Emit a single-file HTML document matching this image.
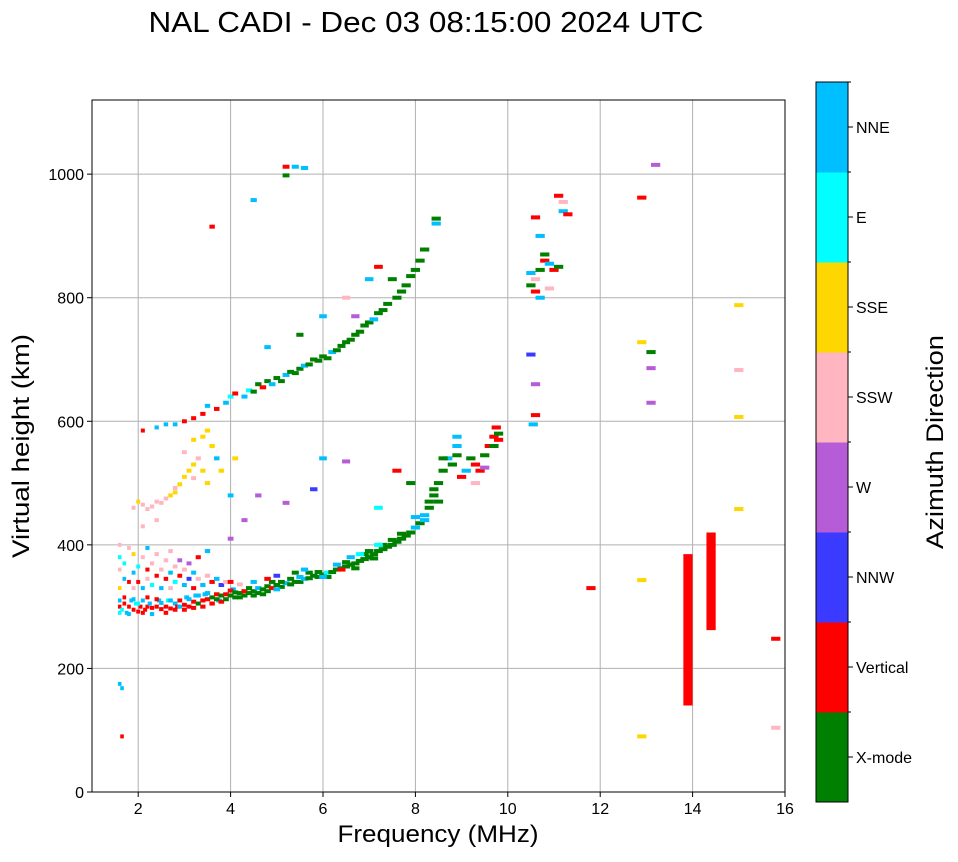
<!DOCTYPE html>
<html><head><meta charset="utf-8"><style>
body{margin:0;background:#fff;}
svg text{font-family:"Liberation Sans",sans-serif;}
</style></head><body>
<svg id="chart" width="958" height="857" xmlns="http://www.w3.org/2000/svg">
<rect width="958" height="857" fill="#fff"/>
<text x="426" y="32" font-size="29" text-anchor="middle" textLength="555" lengthAdjust="spacingAndGlyphs">NAL CADI - Dec 03 08:15:00 2024 UTC</text>
<g id="grid"></g>
<g id="marks"></g>
<rect x="92" y="100" width="693" height="692" fill="none" stroke="#000" stroke-width="1"/>
<g id="axes"></g>
<text x="438" y="842" font-size="24" text-anchor="middle" textLength="201" lengthAdjust="spacingAndGlyphs">Frequency (MHz)</text>
<text transform="translate(29,446) rotate(-90)" font-size="24" text-anchor="middle" textLength="224" lengthAdjust="spacingAndGlyphs">Virtual height (km)</text>
<g id="colorbar"></g>
<text transform="translate(943,442) rotate(-90)" font-size="24" text-anchor="middle" textLength="214" lengthAdjust="spacingAndGlyphs">Azimuth Direction</text>
</svg>
<script>
const xTicks=[2,4,6,8,10,12,14,16];
const yTicks=[0,200,400,600,800,1000];
const dirNames=["X-mode","Vertical","NNW","W","SSW","SSE","E","NNE"];
const dirColors=["#008000","#ff0000","#3b3bff","#b65cd6","#ffb6c1","#ffd700","#00ffff","#00bfff"];
const lowerTrace=[[1.6,300,1],[1.6,310,7],[1.65,295,6],[1.7,305,1],[1.75,290,7],[1.8,300,1],[1.85,310,7],[1.9,295,1],[1.95,305,6],[2.0,292,1],[2.05,300,1],[2.1,310,7],[2.15,295,1],[2.2,300,1],[2.25,305,7],[2.3,298,1],[2.4,300,1],[2.45,310,7],[2.5,296,1],[2.6,300,1],[2.65,310,6],[2.7,297,1],[2.8,305,7],[2.85,300,1],[2.9,310,1],[3.0,303,1],[3.05,315,7],[3.1,300,1],[3.2,308,1],[3.25,318,7],[3.3,305,0],[3.4,310,1],[3.45,320,7],[3.5,312,1],[3.6,315,0],[3.7,320,1],[3.75,310,7],[3.8,318,0],[3.9,320,1],[4.0,318,0],[4.05,328,7],[4.1,315,0],[4.2,322,0],[4.3,325,1],[4.4,322,0],[4.5,325,0],[4.6,330,7],[4.7,328,0],[4.8,333,0],[4.9,330,1],[5.0,335,0],[5.1,332,0],[5.2,338,7],[5.3,336,0],[5.4,340,0],[5.5,340,0],[5.6,345,7],[5.7,346,0],[5.8,350,0],[5.9,348,0],[6.0,352,0],[6.1,355,6],[6.2,356,0],[6.3,360,0],[6.4,362,0],[6.5,365,0],[6.6,368,0],[6.7,370,0],[6.8,374,0],[6.9,377,0],[7.0,380,0],[7.1,385,0],[7.2,390,0],[7.3,393,0],[7.4,397,0],[7.5,400,0],[7.6,405,0],[7.7,410,0],[7.8,415,0],[7.9,420,0],[8.0,428,7],[8.1,435,0],[8.2,440,7],[8.3,460,0],[8.4,480,0],[8.5,500,0],[8.6,520,0],[8.7,540,7],[8.8,530,0],[8.9,560,7],[9.0,510,1],[9.1,520,7],[9.2,540,0],[9.3,530,1],[9.4,520,1],[9.5,545,0],[9.6,560,1],[9.7,575,1],[9.8,580,0],[9.75,590,1]];
const lowerThick=[[1.6,290,6],[1.7,315,1],[1.8,288,7],[1.9,312,7],[2.0,305,6],[2.1,290,1],[2.2,315,1],[2.3,288,7],[2.4,312,1],[2.5,306,7],[2.6,290,1],[2.7,310,7],[2.8,295,1],[2.9,300,7],[3.0,295,1],[3.1,312,7],[3.2,298,1],[3.3,318,7],[3.4,300,1],[3.5,322,7],[3.6,305,1],[3.7,312,0],[3.8,308,1],[3.9,312,0],[4.0,326,1],[4.1,323,0],[4.2,315,0],[4.3,318,0],[4.4,330,0],[4.5,318,0],[4.6,322,0],[4.7,320,0],[4.8,325,0],[4.9,340,0],[5.0,328,7],[5.1,340,0],[5.3,345,0],[5.5,348,7],[5.7,355,0],[5.9,356,0],[6.1,348,0],[6.3,368,7],[6.5,372,0],[6.7,362,0],[6.9,385,0],[7.1,378,0],[7.3,400,0],[7.5,408,0],[7.7,418,0],[8.0,445,7],[8.2,448,7],[8.3,470,0],[8.4,490,0],[8.5,470,0],[8.6,540,0],[8.9,575,7],[8.9,545,0],[9.3,500,4],[9.5,525,3],[9.7,560,0],[9.8,570,1]];
const lowScatter=[[1.6,330,5],[1.6,360,4],[1.6,380,6],[1.6,400,4],[1.7,345,7],[1.7,370,6],[1.8,340,1],[1.8,395,4],[1.9,330,4],[1.9,355,7],[1.9,385,5],[2.0,340,1],[2.0,365,6],[2.1,330,7],[2.1,380,4],[2.2,345,4],[2.2,360,1],[2.2,395,7],[2.3,335,6],[2.3,370,4],[2.4,350,1],[2.4,385,4],[2.5,330,7],[2.5,360,4],[2.6,345,1],[2.6,375,4],[2.7,330,4],[2.7,355,7],[2.7,390,4],[2.8,340,6],[2.8,365,4],[2.9,350,1],[2.9,375,3],[3.0,335,7],[3.0,360,4],[3.1,345,2],[3.1,370,3],[3.2,330,1],[3.2,355,7],[3.3,345,4],[3.3,380,1],[3.4,335,7],[3.5,350,4],[3.5,390,7],[3.6,340,1],[3.7,345,7],[3.8,335,2],[3.9,340,4],[4.0,340,1],[4.2,336,4],[4.5,340,7],[4.8,345,1],[5.0,350,2],[5.4,355,0],[5.6,360,7],[6.0,348,7],[6.4,360,1],[6.6,380,7],[6.8,385,6],[7.0,390,0],[7.2,400,6]];
const upperTrace=[[2.4,590,7],[2.6,595,7],[2.8,595,7],[3.0,600,1],[3.2,605,1],[3.4,612,1],[3.5,625,7],[3.7,620,1],[3.9,630,7],[4.0,640,6],[4.1,645,1],[4.3,640,7],[4.4,650,6],[4.5,648,0],[4.6,660,0],[4.7,655,1],[4.8,665,0],[4.9,660,7],[5.0,670,0],[5.1,665,0],[5.2,675,7],[5.3,680,0],[5.4,678,0],[5.5,685,0],[5.6,690,7],[5.7,692,0],[5.8,700,0],[5.9,698,0],[6.0,705,0],[6.1,702,0],[6.2,712,7],[6.3,715,0],[6.4,722,0],[6.5,728,0],[6.6,732,0],[6.7,740,0],[6.8,745,0],[6.9,755,0],[7.0,760,0],[7.1,765,7],[7.2,775,0],[7.3,780,0],[7.4,790,0],[7.6,800,0],[7.7,810,0],[7.8,820,0],[7.9,835,0],[8.0,845,0],[8.1,860,0],[8.2,878,0],[8.45,928,0],[8.45,920,7],[4.5,958,7],[5.2,1012,1],[5.4,1012,7],[5.6,1010,7],[5.2,998,0],[3.6,915,1],[6.5,800,4],[6.7,770,3],[7.0,830,7],[7.2,850,1],[7.5,830,0],[6.0,770,7],[4.8,720,7],[5.5,740,0]];
const sswSse=[[1.9,460,4],[2.0,470,5],[2.1,465,4],[2.2,458,4],[2.3,462,4],[2.4,470,4],[2.5,468,4],[2.6,475,4],[2.7,480,5],[2.8,485,5],[2.9,498,5],[3.0,510,5],[3.1,520,5],[3.2,530,5],[3.3,540,4],[3.4,520,5],[3.5,500,5],[3.2,570,5],[3.4,575,5],[3.6,560,5],[3.5,585,5],[3.0,550,4],[3.2,508,4],[2.8,492,4],[3.7,540,7],[4.1,540,5],[3.8,520,5],[2.1,430,4],[2.4,440,4],[4.0,410,3],[4.3,440,3],[4.6,480,3],[5.2,468,3],[5.8,490,2],[6.0,540,7],[6.5,535,3],[7.6,520,1],[7.9,500,0],[7.2,460,6],[4.0,480,7]];
const highCluster=[[10.5,840,7],[10.5,820,0],[10.6,830,4],[10.6,810,1],[10.7,845,0],[10.7,800,7],[10.8,860,1],[10.8,870,0],[10.9,815,4],[10.9,855,7],[11.0,845,1],[11.1,850,0],[11.1,965,1],[11.2,940,7],[11.3,935,1],[11.2,955,4],[10.6,930,1],[10.7,900,7],[10.5,708,2],[10.6,660,3],[10.6,610,1],[10.55,595,7],[11.8,330,1],[12.9,962,1],[12.9,728,5],[13.1,712,0],[13.1,686,3],[13.1,630,3],[12.9,343,5],[12.9,90,5],[13.2,1015,3],[15.0,788,5],[15.0,683,4],[15.0,607,5],[15.0,458,5],[15.8,248,1],[15.8,104,4],[1.6,175,7],[1.65,168,7],[1.65,90,1],[2.1,585,1]];
const columns=[[13.9,140,385,1],[14.4,262,420,1]];

const X0=92,X1=785,Y0=792,Y1=100;
function xs(f){return X0+(f-1)/15*(X1-X0);}
function ys(h){return Y0-h/1120*(Y0-Y1);}
function mw(f){return Math.min(0.2,0.02*f+0.045)/15*(X1-X0);}
const NS="http://www.w3.org/2000/svg";
function mk(tag,attrs,parent){const e=document.createElementNS(NS,tag);for(const k in attrs)e.setAttribute(k,attrs[k]);parent.appendChild(e);return e;}
const grid=document.getElementById('grid'),axes=document.getElementById('axes'),marks=document.getElementById('marks'),cb=document.getElementById('colorbar');
xTicks.forEach(t=>{const x=xs(t);
 const g=mk('line',{x1:x,x2:x,y1:Y1,y2:Y0,stroke:'#b0b0b0','stroke-width':1},grid);
 
 mk('line',{x1:x,x2:x,y1:Y0,y2:Y0+5,stroke:'#000'},axes);
 const tx=mk('text',{x:x,y:Y0+22,'font-size':16,'text-anchor':'middle'},axes);tx.textContent=t;
 });
yTicks.forEach(t=>{const y=ys(t);
 const g=mk('line',{x1:X0,x2:X1,y1:y,y2:y,stroke:'#b0b0b0','stroke-width':1},grid);
 
 mk('line',{x1:X0-5,x2:X0,y1:y,y2:y,stroke:'#000'},axes);
 const tx=mk('text',{x:X0-8,y:y+6,'font-size':16,'text-anchor':'end'},axes);tx.textContent=t;
 });
function drawPts(arr){arr.forEach(p=>{const w=mw(p[0]);
 const r=mk('rect',{x:xs(p[0])-w/2,y:ys(p[1])-2,width:w,height:4,fill:dirColors[p[2]]},marks);
 });}
[lowerTrace,lowerThick,lowScatter,upperTrace,sswSse,highCluster].forEach(drawPts);
columns.forEach(c=>{const w=mw(c[0]);
 const r=mk('rect',{x:xs(c[0])-w/2,y:ys(c[2]),width:w,height:ys(c[1])-ys(c[2]),fill:dirColors[c[3]]},marks);
 });
const CB0=802,CB1=82,segH=(CB0-CB1)/dirNames.length;
dirNames.forEach((n,i)=>{const y=CB0-(i+1)*segH;
 const r=mk('rect',{x:816,y:y,width:32,height:segH+0.5,fill:dirColors[i]},cb);
 
 mk('line',{x1:848,x2:853,y1:y+segH/2,y2:y+segH/2,stroke:'#000'},cb);
 mk('line',{x1:848,x2:851,y1:y,y2:y,stroke:'#000'},cb);
 const tx=mk('text',{x:856,y:y+segH/2+6,'font-size':16},cb);tx.textContent=n;
 });
mk('rect',{x:816,y:CB1,width:32,height:CB0-CB1,fill:'none',stroke:'#000'},cb);
</script>
</body></html>
